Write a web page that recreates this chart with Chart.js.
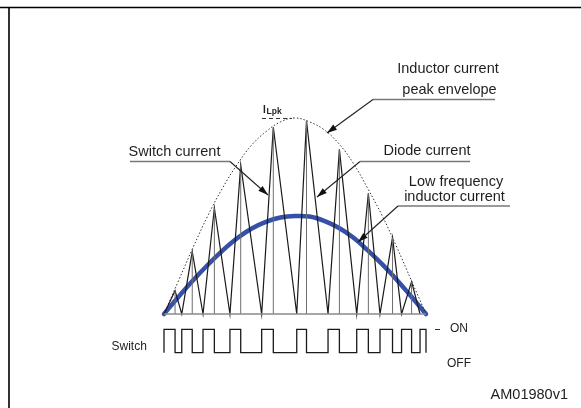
<!DOCTYPE html>
<html>
<head>
<meta charset="utf-8">
<script src="https://cdn.jsdelivr.net/npm/chart.js@4.4.1/dist/chart.umd.min.js"></script>
<style>
  html, body { margin: 0; padding: 0; background: #fff; }
  canvas { display: block; }
</style>
</head>
<body>
<canvas id="chart" width="581" height="408"></canvas>
<script>
// --- DATA ---
// phase of the mains half cycle, in degrees (0..180)
// switch turns on at each valley, turns off at each peak
const valleyDeg = [0, 12.2, 26.8, 45.3, 67.1, 91.2, 112.7, 132.4, 148.4, 163.2, 175.9];
const peakDeg = [7.6, 19.4, 34.6, 52.7, 75.1, 97.9, 120.5, 140.4, 157.0, 170.1];
// inductor current at turn-off, relative to ILpk
const peakLevel = [0.119, 0.318, 0.541, 0.760, 0.953, 0.986, 0.840, 0.616, 0.391, 0.165];

// dotted peak envelope and average (low frequency) current, read every 10 degrees
const envelopeDeg = [0, 10, 20, 30, 40, 50, 60, 70, 80, 90, 100, 110, 120, 130, 140, 150, 160, 170, 180];
const envelopeLevel = [0, 0.17, 0.34, 0.50, 0.64, 0.76, 0.86, 0.93, 0.98, 1.0, 0.98, 0.94, 0.87, 0.77, 0.64, 0.50, 0.34, 0.17, 0];
const avgLevel = [0, 0.088, 0.172, 0.25, 0.322, 0.385, 0.435, 0.47, 0.492, 0.5, 0.497, 0.475, 0.44, 0.39, 0.325, 0.253, 0.174, 0.088, 0];

const halfCycle = [0, 180];

// --- build datasets ---
const triangle = [];
peakDeg.forEach((p, i) => {
    triangle.push({ x: valleyDeg[i], y: 0 });
    triangle.push({ x: p, y: peakLevel[i] });
});
triangle.push({ x: valleyDeg[valleyDeg.length - 1], y: 0 });

const drops = [];
peakDeg.forEach((p, i) => {
    drops.push({ x: p, y: 0 }, { x: p, y: peakLevel[i] }, { x: p, y: null });
});

const switchWave = [];
peakDeg.forEach((p, i) => {
    const v = valleyDeg[i];
    switchWave.push({ x: v, y: 0 }, { x: v, y: 1 }, { x: p, y: 1 }, { x: p, y: 0 });
});
const lastV = valleyDeg[valleyDeg.length - 1];
switchWave.push({ x: lastV, y: 0 }, { x: lastV, y: 1 }, { x: halfCycle[1], y: 1 }, { x: halfCycle[1], y: 0 });

const envelope = envelopeDeg.map((d, i) => ({ x: d, y: envelopeLevel[i] }));
const average = envelopeDeg.map((d, i) => ({ x: d, y: avgLevel[i] }));
const baseline = halfCycle.map(d => ({ x: d, y: 0 }));

const FONT = "'Liberation Sans', Arial, sans-serif";
const INK = '#1e1e1e';

function arrow(ctx, x0, y0, x1, y1) {
    const a = Math.atan2(y1 - y0, x1 - x0);
    const len = 10, w = 3.2;
    ctx.beginPath();
    ctx.moveTo(x1, y1);
    ctx.lineTo(x1 - len * Math.cos(a) + w * Math.sin(a), y1 - len * Math.sin(a) - w * Math.cos(a));
    ctx.lineTo(x1 - len * Math.cos(a) - w * Math.sin(a), y1 - len * Math.sin(a) + w * Math.cos(a));
    ctx.closePath();
    ctx.fill();
}

function callout(ctx, hx0, hx1, hy, tx, ty) {
    ctx.strokeStyle = '#777';
    ctx.lineWidth = 1.4;
    ctx.beginPath();
    ctx.moveTo(hx1, hy);
    ctx.lineTo(hx0, hy);
    ctx.stroke();
    ctx.strokeStyle = '#222';
    ctx.lineWidth = 1.1;
    ctx.beginPath();
    ctx.moveTo(hx0, hy);
    ctx.lineTo(tx, ty);
    ctx.stroke();
    ctx.fillStyle = '#111';
    arrow(ctx, hx0, hy, tx, ty);
}

const decorations = {
    id: 'decorations',
    beforeDraw(chart) {
        const ctx = chart.ctx;
        ctx.save();
        ctx.strokeStyle = '#000';
        ctx.lineWidth = 1.6;
        ctx.beginPath();
        ctx.moveTo(0, 7.5);
        ctx.lineTo(chart.width, 7.5);
        ctx.moveTo(9, 7.5);
        ctx.lineTo(9, chart.height);
        ctx.stroke();
        ctx.restore();
    },
    afterDraw(chart) {
        const ctx = chart.ctx;
        const x = chart.scales.x, y = chart.scales.y;
        ctx.save();

        // ILpk marker
        const yPk = y.getPixelForValue(1) + 0.5;
        ctx.strokeStyle = '#333';
        ctx.lineWidth = 1;
        ctx.setLineDash([4, 3]);
        ctx.beginPath();
        ctx.moveTo(262, yPk);
        ctx.lineTo(x.getPixelForValue(88), yPk);
        ctx.stroke();
        ctx.setLineDash([]);
        ctx.fillStyle = INK;
        ctx.textBaseline = 'alphabetic';
        ctx.textAlign = 'left';
        ctx.font = 'bold 10px ' + FONT;
        ctx.fillText('I', 263, 113);
        ctx.font = 'bold 8.5px ' + FONT;
        ctx.fillText('Lpk', 266.5, 113.5);

        // callouts
        callout(ctx, 373, 495, 99.5, 327, 133);
        callout(ctx, 230, 130, 161.5, 268, 195);
        callout(ctx, 360, 470, 161.5, 317, 197);
        callout(ctx, 398, 510, 206, 358, 242);

        ctx.fillStyle = INK;
        ctx.font = '14.5px ' + FONT;
        ctx.textAlign = 'center';
        ctx.fillText('Inductor current', 448, 73);
        ctx.fillText('peak envelope', 449.5, 93.5);
        ctx.fillText('Switch current', 174.5, 156);
        ctx.fillText('Diode current', 427, 155);
        ctx.fillText('Low frequency', 456, 186);
        ctx.fillText('inductor current', 454.5, 201);

        // switch levels
        ctx.strokeStyle = '#333';
        ctx.lineWidth = 1;
        ctx.beginPath();
        ctx.moveTo(435, 329.5);
        ctx.lineTo(440, 329.5);
        ctx.stroke();
        ctx.font = '12px ' + FONT;
        ctx.textAlign = 'left';
        ctx.fillText('ON', 450, 332);
        ctx.fillText('OFF', 447, 367);
        ctx.fillText('Switch', 111.5, 350);

        ctx.font = '14.5px ' + FONT;
        ctx.textAlign = 'right';
        ctx.fillText('AM01980v1', 568, 399);
        ctx.restore();
    }
};

new Chart(document.getElementById('chart').getContext('2d'), {
    type: 'line',
    data: {
        datasets: [
            { data: baseline, borderColor: '#8a8a8a', borderWidth: 1.5, pointRadius: 0, clip: false },
            { data: drops, borderColor: '#6e6e6e', borderWidth: 1, pointRadius: 0, spanGaps: false, clip: false },
            { data: triangle, borderColor: '#1a1a1a', borderWidth: 1.2, pointRadius: 0, clip: false },
            { data: envelope, borderColor: '#333', borderWidth: 1, borderDash: [1.5, 2], pointRadius: 0, tension: 0.4, clip: false },
            { data: average, borderColor: '#3550a8', borderWidth: 4.5, borderCapStyle: 'round', pointRadius: 0, tension: 0.4, clip: false },
            { data: switchWave, yAxisID: 'ySw', borderColor: '#1a1a1a', borderWidth: 1.3, pointRadius: 0, clip: false }
        ]
    },
    options: {
        responsive: false,
        animation: false,
        events: [],
        layout: { padding: { left: 164, right: 155, top: 98, bottom: 45 } },
        scales: {
            x: { type: 'linear', min: 0, max: 180, display: false },
            y: { min: -0.25, max: 1.102, display: false },
            ySw: { min: -0.44, max: 10.88, display: false }
        },
        plugins: { legend: { display: false }, tooltip: { enabled: false } }
    },
    plugins: [decorations]
});
</script>
</body>
</html>
